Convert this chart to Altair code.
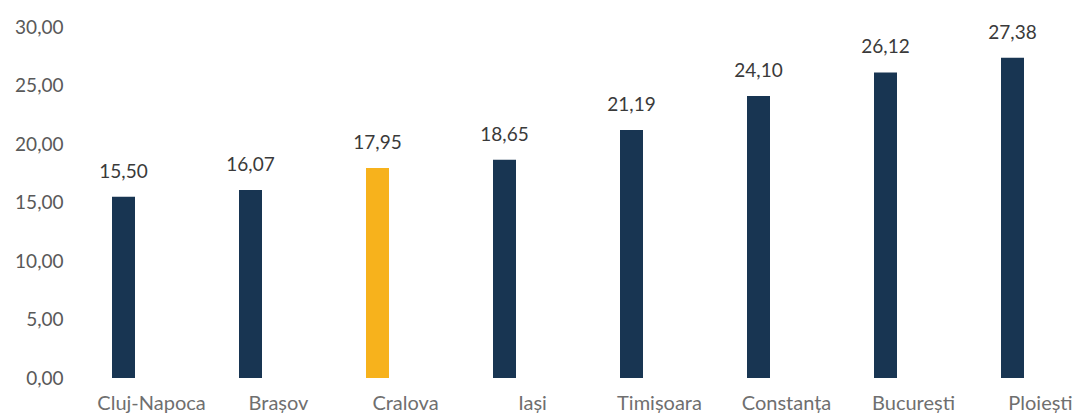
import altair as alt
import pandas as pd

cities = ["Cluj-Napoca", "Brașov", "Cralova", "Iași", "Timișoara", "Constanța", "București", "Ploiești"]
values = [15.50, 16.07, 17.95, 18.65, 21.19, 24.10, 26.12, 27.38]
highlight = ["no", "no", "yes", "no", "no", "no", "no", "no"]
labels = ["15,50", "16,07", "17,95", "18,65", "21,19", "24,10", "26,12", "27,38"]

df = pd.DataFrame({"city": cities, "value": values, "hl": highlight, "label": labels})

FONT = "Lato"

x = alt.X("city:N", sort=cities, title=None,
          scale=alt.Scale(paddingInner=0, paddingOuter=0),
          axis=alt.Axis(labelAngle=0, domain=False, ticks=False, grid=False, labelPadding=15,
                        labelOffset=28, labelBaseline="top",
                        labelFont=FONT, labelFontSize=20, labelColor="#6f6f6f"))
y = alt.Y("value:Q", title=None,
          scale=alt.Scale(domain=[0, 30], nice=False),
          axis=alt.Axis(values=[0, 5, 10, 15, 20, 25, 30], grid=False,
                        domain=False, ticks=False, labelPadding=-3,
                        labelFont=FONT, labelFontSize=19, labelColor="#595959",
                        labelExpr="replace(format(datum.value, '.2f'), '.', ',')"))

bars = alt.Chart(df).mark_bar(size=23).encode(
    x=x, y=y,
    color=alt.Color("hl:N", scale=alt.Scale(domain=["no", "yes"], range=["#183552", "#f7b21c"]), legend=None),
)

text = alt.Chart(df).mark_text(baseline="alphabetic", dy=-19, font=FONT, fontSize=19, color="#3a3a3a").encode(
    x=alt.X("city:N", sort=cities), y="value:Q", text="label:N"
)

chart = (bars + text).properties(
    width=1016, height=351,
    autosize=alt.AutoSizeParams(type="none"),
    padding={"left": 52, "top": 19, "right": 0, "bottom": 40},
    view=alt.ViewBackground(stroke="transparent", strokeWidth=0),
).configure_view(stroke="transparent", strokeWidth=0).configure_axis(grid=False).configure(background="white")

chart.save("out.html", embed_options={"renderer": "svg", "actions": False})
